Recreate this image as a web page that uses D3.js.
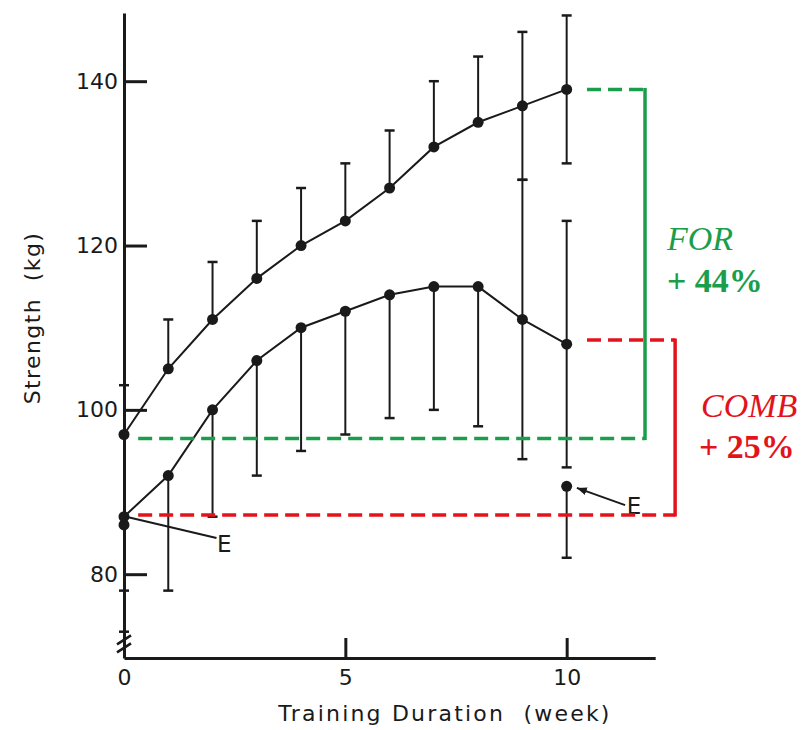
<!DOCTYPE html>
<html>
<head>
<meta charset="utf-8">
<script src="https://cdn.jsdelivr.net/npm/d3@7"></script>
<style>
  body { margin: 0; background: #fff; }
  svg { display: block; }
  .axis path, .axis line { stroke: #1a1a1a; stroke-width: 3; }
  .axis text { font-family: "DejaVu Sans", sans-serif; font-size: 22px; fill: #1a1a1a; }
  .title { font-family: "DejaVu Sans", sans-serif; font-size: 22px; fill: #1a1a1a; white-space: pre; }
  .elabel { font-family: "DejaVu Sans", sans-serif; font-size: 23px; fill: #1a1a1a; }
  .note { font-family: "Liberation Serif", serif; font-size: 34px; }
</style>
</head>
<body>
<svg id="chart" width="808" height="730"></svg>
<script>
// weeks of training
const weeks = [0, 1, 2, 3, 4, 5, 6, 7, 8, 9, 10];

// FOR group (upper curve)
const forMean  = [97, 105, 111, 116, 120, 123, 127, 132, 135, 137, 139];
const forUpper = [103, 111, 118, 123, 127, 130, 134, 140, 143, 146, 148];
const forLower = [null, null, null, null, null, null, null, null, null, 128, 130];

// COMB group (lower curve)
const combMean  = [87, 92, 100, 106, 110, 112, 114, 115, 115, 111, 108];
const combUpper = [null, null, null, null, null, null, null, null, null, 128, 123];
const combLower = [78, 78, 87, 92, 95, 97, 99, 100, 98, 94, 93];

// E points
const eWeeks = [0, 10];
const eMean  = [86, 90.7];
const eLower = [73, 82];

// tick labels
const xTicks = [0, 5, 10];
const yTicks = [80, 100, 120, 140];

// gain brackets (kg levels)
const forGain  = [139, 96.5];
const combGain = [108.5, 87.2];

const green = '#1b9e4b';
const red = '#e3131b';

const svg = d3.select('#chart');

const x = d3.scaleLinear().domain([0, 12]).range([124, 655.2]);
const y = d3.scaleLinear().domain([69.8, 148.3]).range([658, 13]);

// axes
const xAxis = d3.axisBottom(x)
  .tickValues(xTicks)
  .tickSizeInner(-20)
  .tickSizeOuter(0)
  .tickPadding(11);

svg.append('g')
  .attr('class', 'axis')
  .attr('transform', `translate(0,${y.range()[0]})`)
  .call(xAxis);

const yAxis = d3.axisLeft(y)
  .tickValues(yTicks)
  .tickSizeInner(-23)
  .tickSizeOuter(0)
  .tickPadding(6);

svg.append('g')
  .attr('class', 'axis')
  .attr('transform', `translate(${x(0)},0)`)
  .call(yAxis);

// axis break marks
[0, 8].forEach(off => {
  svg.append('line')
    .attr('x1', x(0) - 7).attr('y1', y(70) - 4 - off)
    .attr('x2', x(0) + 7).attr('y2', y(70) - 13 - off)
    .attr('stroke', '#1a1a1a').attr('stroke-width', 2.5);
});

// titles
svg.append('text')
  .attr('class', 'title')
  .attr('text-anchor', 'middle')
  .attr('letter-spacing', 2.2)
  .attr('x', 445).attr('y', 721)
  .text('Training Duration  (week)');

svg.append('text')
  .attr('class', 'title')
  .attr('text-anchor', 'middle')
  .attr('letter-spacing', 1.4)
  .attr('transform', 'translate(40,318) rotate(-90)')
  .text('Strength  (kg)');

// error bars
function errorBars(means, upper, lower, xs) {
  const g = svg.append('g').attr('stroke', '#1a1a1a').attr('stroke-width', 2);
  xs.forEach((w, i) => {
    [upper[i], lower[i]].forEach(v => {
      if (v == null) return;
      g.append('line')
        .attr('x1', x(w)).attr('x2', x(w))
        .attr('y1', y(means[i])).attr('y2', y(v));
      g.append('line')
        .attr('stroke-width', 2.5)
        .attr('x1', x(w) - 5).attr('x2', x(w) + 5)
        .attr('y1', y(v)).attr('y2', y(v));
    });
  });
}

errorBars(forMean, forUpper, forLower, weeks);
errorBars(combMean, combUpper, combLower, weeks);
errorBars(eMean, eMean.map(() => null), eLower, eWeeks);

// lines + points
const line = d3.line()
  .x(d => x(d[0]))
  .y(d => y(d[1]));

[forMean, combMean].forEach(series => {
  const pts = weeks.map((w, i) => [w, series[i]]);
  svg.append('path')
    .attr('d', line(pts))
    .attr('fill', 'none')
    .attr('stroke', '#1a1a1a')
    .attr('stroke-width', 2);
  svg.selectAll(null)
    .data(pts)
    .enter()
    .append('circle')
      .attr('cx', d => x(d[0]))
      .attr('cy', d => y(d[1]))
      .attr('r', 5.5)
      .attr('fill', '#1a1a1a');
});

svg.selectAll(null)
  .data(eWeeks.map((w, i) => [w, eMean[i]]))
  .enter()
  .append('circle')
    .attr('cx', d => x(d[0]))
    .attr('cy', d => y(d[1]))
    .attr('r', 5.5)
    .attr('fill', '#1a1a1a');

// E labels
svg.append('defs').append('marker')
  .attr('id', 'arrow')
  .attr('viewBox', '0 0 10 10')
  .attr('refX', 10).attr('refY', 5)
  .attr('markerWidth', 5).attr('markerHeight', 5)
  .attr('orient', 'auto')
  .append('path')
    .attr('d', 'M0,1 L10,5 L0,9 Z')
    .attr('fill', '#1a1a1a');

svg.append('line')
  .attr('x1', x(0.05)).attr('y1', y(87))
  .attr('x2', x(2.09)).attr('y2', y(84.4))
  .attr('stroke', '#1a1a1a').attr('stroke-width', 2);

svg.append('line')
  .attr('x1', x(11.32)).attr('y1', y(88.4))
  .attr('x2', x(10.23)).attr('y2', y(90.5))
  .attr('stroke', '#1a1a1a').attr('stroke-width', 2)
  .attr('marker-end', 'url(#arrow)');

[[2.1, 82.7], [11.36, 87.3]].forEach(p => {
  svg.append('text')
    .attr('class', 'elabel')
    .attr('x', x(p[0])).attr('y', y(p[1]))
    .text('E');
});

// gain brackets
function bracket(levels, color, xTop, xBottom, xRight) {
  const g = svg.append('g')
    .attr('stroke', color)
    .attr('stroke-width', 3.5)
    .attr('fill', 'none');
  g.append('line')
    .attr('stroke-dasharray', '14,7')
    .attr('x1', x(xTop)).attr('x2', x(xRight))
    .attr('y1', y(levels[0])).attr('y2', y(levels[0]));
  g.append('line')
    .attr('stroke-dasharray', '14,7')
    .attr('x1', x(xBottom)).attr('x2', x(xRight))
    .attr('y1', y(levels[1])).attr('y2', y(levels[1]));
  g.append('line')
    .attr('x1', x(xRight)).attr('x2', x(xRight))
    .attr('y1', y(levels[0]) - 1.5).attr('y2', y(levels[1]) + 1.5);
}

bracket(forGain, green, 10.46, 0.32, 11.77);
bracket(combGain, red, 10.46, 0.32, 12.45);

// gain labels
function note(txt, px, py, color, italic) {
  svg.append('text')
    .attr('class', 'note')
    .attr('fill', color)
    .attr('font-style', italic ? 'italic' : 'normal')
    .attr('font-weight', italic ? 'normal' : 'bold')
    .attr('x', px).attr('y', py)
    .text(txt);
}

note('FOR', 667, 250, green, true);
note('+ 44%', 667, 292, green, false);
note('COMB', 701, 417, red, true);
note('+ 25%', 699, 458, red, false);
</script>
</body>
</html>
